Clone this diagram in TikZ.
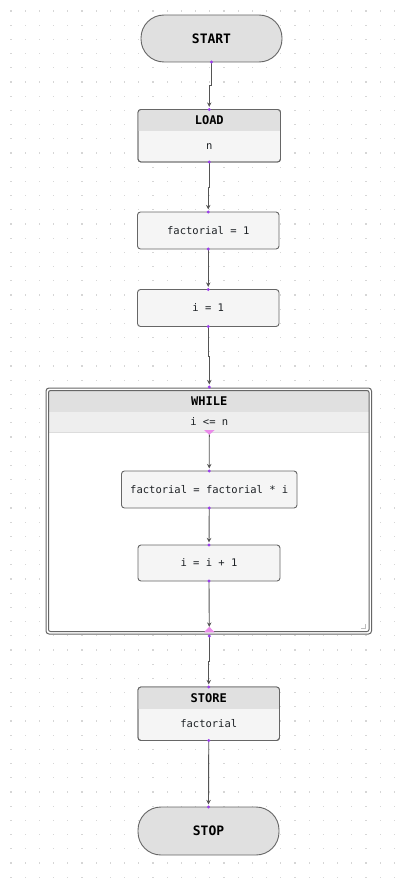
\documentclass[tikz,border=0pt]{standalone}
\usepackage{fontspec}
\setmonofont{DejaVu Sans Mono}
\usetikzlibrary{arrows.meta,calc}
\definecolor{edgec}{HTML}{666666}
\definecolor{linec}{HTML}{555555}
\definecolor{hdrc}{HTML}{E0E0E0}
\definecolor{bodyc}{HTML}{F5F5F5}
\definecolor{bandc}{HTML}{EEEEEE}
\definecolor{gridc}{HTML}{D6D6D6}
\definecolor{sepc}{HTML}{DCDCDC}
\definecolor{markc}{HTML}{BEBEBE}
\definecolor{dotc}{HTML}{9B3DEB}
\definecolor{pinkc}{HTML}{EA8CEA}
\definecolor{txtc}{HTML}{1E2226}
\begin{document}
\begin{tikzpicture}[x=1pt,y=-1pt,
  term/.style={draw=edgec,line width=0.9pt,fill=hdrc,rounded corners=23pt,inner sep=0pt,outer sep=0pt,
    font=\ttfamily\bfseries\fontsize{13}{15}\selectfont,text=black},
  proc/.style={draw=edgec,line width=0.9pt,fill=bodyc,rounded corners=3pt,inner sep=0pt,outer sep=0pt,
    font=\ttfamily\fontsize{10.5}{12}\selectfont,text=txtc},
  boxc/.style={draw=edgec,line width=0.9pt,rounded corners=3pt,inner sep=0pt,outer sep=0pt},
  ttl/.style={font=\ttfamily\bfseries\fontsize{12}{14}\selectfont,text=black,inner sep=0pt},
  bdy/.style={font=\ttfamily\fontsize{10.5}{12}\selectfont,text=txtc,inner sep=0pt},
  conn/.style={draw=linec,line width=0.9pt,shorten >=2.6pt,-{Stealth[length=4.5pt,width=4.5pt]}},
  pdot/.style={fill=dotc},
  tri/.style={fill=pinkc}
]
\useasboundingbox (0,0) rectangle (406,880);
\fill[white] (0,0) rectangle (406,880);
% dotted grid
\foreach \i in {0,...,27}{
  \foreach \j in {0,...,61}{
    \fill[gridc] ({11+14.2*\i-0.6},{11+14.2*\j-0.6}) rectangle ++(1.2,1.2);
  }
}

% START
\node[term,minimum width=141pt,minimum height=47pt] (start) at (211.5,38.5) {START};

% LOAD
\node[boxc,fill=bodyc,minimum width=142.5pt,minimum height=52.5pt] (load) at (209.25,135.75) {};
\begin{scope}
  \clip[rounded corners=3pt] (load.south west) rectangle (load.north east);
  \fill[hdrc] (load.north west) rectangle ($(load.north east)+(0,21.5)$);
\end{scope}
\draw[edgec,line width=0.9pt,rounded corners=3pt] (load.south west) rectangle (load.north east);
\node[ttl] (loadt) at (209.25,120.5) {LOAD};
\node[bdy] (loadb) at (209.25,146.5) {n};

% factorial = 1
\node[proc,minimum width=141.5pt,minimum height=37pt] (f1) at (208.25,230.5) {factorial = 1};
% i = 1
\node[proc,minimum width=141.5pt,minimum height=37pt] (i1) at (208.25,308) {i = 1};

% WHILE container
\node[inner sep=0pt,outer sep=0pt,minimum width=325.5pt,minimum height=246pt] (wh) at (208.75,511) {};
\fill[white,rounded corners=3pt] (46,388) rectangle (371.5,634);
\fill[hdrc] (48.5,390.5) rectangle (369,412);
\fill[bandc] (48.5,412) rectangle (369,432);
\draw[sepc,line width=0.6pt] (48.5,432) -- (369,432);
\draw[edgec,line width=1pt,rounded corners=3pt] (46,388) rectangle (371.5,634);
\draw[edgec,line width=1pt,rounded corners=2pt] (48.5,390.5) rectangle (369,631.5);
\node[ttl] (wht) at (209.25,401.5) {WHILE};
\node[bdy] (whc) at (209.25,421.5) {i <= n};
\draw[markc,line width=0.8pt] (361,628) -- (365.5,628) -- (365.5,623.5);
\coordinate (tdn) at (209.3,434.5);
\coordinate (tup) at (209.3,629.5);
\fill[tri] (204,430) -- (214.6,430) -- (209.3,434.8) -- cycle;
\fill[tri] (204,632.3) -- (214.6,632.3) -- (209.3,626.7) -- cycle;

\node[proc,minimum width=175.5pt,minimum height=37pt] (ff) at (209.25,489.5) {factorial = factorial * i};
\node[proc,minimum width=142pt,minimum height=36pt] (ii) at (209,563) {i = i + 1};

% STORE
\node[boxc,fill=bodyc,minimum width=141.5pt,minimum height=53.5pt] (store) at (208.75,713.75) {};
\begin{scope}
  \clip[rounded corners=3pt] (store.south west) rectangle (store.north east);
  \fill[hdrc] (store.north west) rectangle ($(store.north east)+(0,22)$);
\end{scope}
\draw[edgec,line width=0.9pt,rounded corners=3pt] (store.south west) rectangle (store.north east);
\node[ttl] (storet) at (208.75,698.5) {STORE};
\node[bdy] (storeb) at (208.75,723.5) {factorial};

% STOP
\node[term,minimum width=141pt,minimum height=48pt] (stop) at (208.5,831) {STOP};

% connectors
\coordinate (whin) at (209.3,387);
\coordinate (whout) at (209.3,636);
\draw[conn] (start.south) |- ($(start.south)!.5!(load.north)$) -| (load.north);
\draw[conn] (load.south) |- ($(load.south)!.5!(f1.north)$) -| (f1.north);
\draw[conn] (f1.south) -- (i1.north);
\draw[conn] (i1.south) |- ($(i1.south)!.5!(whin)$) -| (whin);
\draw[conn] (tdn) -- (ff.north);
\draw[conn] (ff.south) -- (ii.north);
\draw[conn] (ii.south) -- (tup);
\draw[conn] (whout) |- ($(whout)!.5!(store.north)$) -| (store.north);
\draw[conn] (store.south) -- (stop.north);

% port dots
\foreach \p in {start.south,load.north,load.south,f1.north,f1.south,i1.north,i1.south,whin,
  ff.north,ff.south,ii.north,ii.south,whout,store.north,store.south,stop.north}{
  \fill[pdot] (\p) circle (1.7pt);
}
\end{tikzpicture}
\end{document}
